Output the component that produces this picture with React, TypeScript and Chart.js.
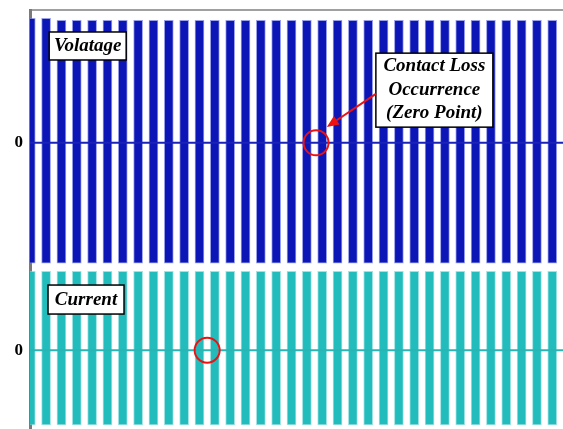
import React, { useEffect, useRef } from 'react';
import { Chart, registerables } from 'chart.js';
Chart.register(...registerables);

// Burst centre times (ms) of the high-frequency waveform
const burstTimes = [1, 21, 41, 61, 81, 101, 121, 141, 161, 181, 201, 221, 241, 261, 281, 301, 321, 341, 361, 381, 401, 421, 441, 461, 481, 501, 521, 541, 561, 581, 601, 621, 641, 661, 681];
// Voltage envelope (divisions)
const voltageUpper = [3.0, 3.0, 2.95, 2.95, 2.95, 2.95, 2.95, 2.95, 2.95, 2.95, 2.95, 2.95, 2.95, 2.95, 2.95, 2.95, 2.95, 2.95, 2.95, 2.95, 2.95, 2.95, 2.95, 2.95, 2.95, 2.95, 2.95, 2.95, 2.95, 2.95, 2.95, 2.95, 2.95, 2.95, 2.95];
const voltageLower = [-2.9, -2.9, -2.9, -2.9, -2.9, -2.9, -2.9, -2.9, -2.9, -2.9, -2.9, -2.9, -2.9, -2.9, -2.9, -2.9, -2.9, -2.9, -2.9, -2.9, -2.9, -2.9, -2.9, -2.9, -2.9, -2.9, -2.9, -2.9, -2.9, -2.9, -2.9, -2.9, -2.9, -2.9, -2.9];
// Current envelope (divisions, relative to its own zero)
const currentUpper = [1.9, 1.9, 1.9, 1.9, 1.9, 1.9, 1.9, 1.9, 1.9, 1.9, 1.9, 1.9, 1.9, 1.9, 1.9, 1.9, 1.9, 1.9, 1.9, 1.9, 1.9, 1.9, 1.9, 1.9, 1.9, 1.9, 1.9, 1.9, 1.9, 1.9, 1.9, 1.9, 1.9, 1.9, 1.9];
const currentLower = [-1.8, -1.8, -1.8, -1.8, -1.8, -1.8, -1.8, -1.8, -1.8, -1.8, -1.8, -1.8, -1.8, -1.8, -1.8, -1.8, -1.8, -1.8, -1.8, -1.8, -1.8, -1.8, -1.8, -1.8, -1.8, -1.8, -1.8, -1.8, -1.8, -1.8, -1.8, -1.8, -1.8, -1.8, -1.8];

const voltageZero = 0;
const currentZero = -5;
const timeMin = 0;
const timeMax = 695;
const yMin = -6.9;
const yMax = 3.2;
const zeroTickLabels = ['0', '0'];

// Annotation anchors (data units)
const voltageLabelAt = { t: 25, y: 2.67, text: 'Volatage' };
const currentLabelAt = { t: 23.5, y: -3.43, text: 'Current' };
const contactBoxAt = { t: 451, y: 2.16, lines: ['Contact Loss', 'Occurrence', '(Zero Point)'] };
const contactCircle = { t: 373, y: 0 };
const currentCircle = { t: 231, y: -5 };
const arrowFrom = { t: 451, y: 1.18 };
const arrowTo = { t: 387, y: 0.38 };

const annotationPlugin = {
  id: 'annots',
  afterDatasetsDraw(chart: any) {
    const { ctx, scales } = chart;
    const x = scales.x, y = scales.y;
    const px = (t: number) => x.getPixelForValue(t);
    const py = (v: number) => y.getPixelForValue(v);
    ctx.save();
    const font = 'italic bold 19px "Liberation Serif", "Times New Roman", serif';

    const box = (left: number, top: number, w: number, h: number) => {
      ctx.fillStyle = '#ffffff';
      ctx.fillRect(left, top, w, h);
      ctx.strokeStyle = '#000000';
      ctx.lineWidth = 1.5;
      ctx.strokeRect(left, top, w, h);
    };

    {
      const l = px(voltageLabelAt.t), t = py(voltageLabelAt.y);
      box(l, t, 77, 28);
      ctx.font = font;
      ctx.fillStyle = '#000';
      ctx.textAlign = 'center';
      ctx.textBaseline = 'middle';
      ctx.fillText(voltageLabelAt.text, l + 38.5, t + 14.5);
    }
    {
      const l = px(currentLabelAt.t), t = py(currentLabelAt.y);
      box(l, t, 76, 29);
      ctx.font = font;
      ctx.fillStyle = '#000';
      ctx.textAlign = 'center';
      ctx.textBaseline = 'middle';
      ctx.fillText(currentLabelAt.text, l + 38, t + 15);
    }
    {
      const l = px(contactBoxAt.t), t = py(contactBoxAt.y);
      box(l, t, 117, 74);
      ctx.font = font;
      ctx.fillStyle = '#000';
      ctx.textAlign = 'center';
      ctx.textBaseline = 'middle';
      contactBoxAt.lines.forEach((s, i) => ctx.fillText(s, l + 58.5, t + 13 + i * 23.5));
    }
    {
      const x1 = px(arrowFrom.t), y1 = py(arrowFrom.y);
      const x2 = px(arrowTo.t), y2 = py(arrowTo.y);
      const ang = Math.atan2(y2 - y1, x2 - x1);
      ctx.strokeStyle = '#ee1111';
      ctx.fillStyle = '#ee1111';
      ctx.lineWidth = 2;
      ctx.beginPath();
      ctx.moveTo(x1, y1);
      ctx.lineTo(x2 - 8 * Math.cos(ang), y2 - 8 * Math.sin(ang));
      ctx.stroke();
      ctx.beginPath();
      ctx.moveTo(x2, y2);
      ctx.lineTo(x2 - 12 * Math.cos(ang) + 5 * Math.sin(ang), y2 - 12 * Math.sin(ang) - 5 * Math.cos(ang));
      ctx.lineTo(x2 - 12 * Math.cos(ang) - 5 * Math.sin(ang), y2 - 12 * Math.sin(ang) + 5 * Math.cos(ang));
      ctx.closePath();
      ctx.fill();
    }
    ctx.strokeStyle = '#ee1111';
    ctx.lineWidth = 2;
    [contactCircle, currentCircle].forEach((c) => {
      ctx.beginPath();
      ctx.arc(px(c.t), py(c.y), 12.5, 0, Math.PI * 2);
      ctx.stroke();
    });
    ctx.restore();
  },
};

export default function App() {
  const ref = useRef<HTMLCanvasElement>(null);
  useEffect(() => {
    const voltageBars = burstTimes.map((t, i) => ({ x: t, y: [voltageZero + voltageLower[i], voltageZero + voltageUpper[i]] }));
    const currentBars = burstTimes.map((t, i) => ({ x: t, y: [currentZero + currentLower[i], currentZero + currentUpper[i]] }));
    const chart = new Chart(ref.current!, {
      type: 'bar',
      data: {
        datasets: [
          {
            type: 'line',
            data: [{ x: timeMin, y: voltageZero }, { x: timeMax, y: voltageZero }],
            borderColor: '#1a22b8',
            borderWidth: 2,
            pointRadius: 0,
          } as any,
          {
            type: 'line',
            data: [{ x: timeMin, y: currentZero }, { x: timeMax, y: currentZero }],
            borderColor: '#2ab5b5',
            borderWidth: 2,
            pointRadius: 0,
          } as any,
          {
            data: voltageBars as any,
            backgroundColor: '#0c16b6',
            borderColor: 'rgba(110,120,225,0.7)',
            borderWidth: 1,
            borderSkipped: false,
            barThickness: 9,
            grouped: false,
          } as any,
          {
            data: currentBars as any,
            backgroundColor: '#22bcbc',
            borderColor: 'rgba(120,215,215,0.7)',
            borderWidth: 1,
            borderSkipped: false,
            barThickness: 9,
            grouped: false,
          } as any,
        ],
      },
      options: {
        animation: false,
        responsive: false,
        maintainAspectRatio: false,
        layout: { padding: 0, autoPadding: false },
        plugins: { legend: { display: false }, tooltip: { enabled: false }, title: { display: false } },
        scales: {
          x: {
            type: 'linear',
            position: 'top',
            offset: false,
            min: timeMin,
            max: timeMax,
            grid: { display: false, drawTicks: false, offset: false },
            ticks: { display: false },
            border: { display: true, color: '#a0a0a0', width: 2 },
            afterFit: (s: any) => { s.height = 10; s.paddingLeft = 0; s.paddingRight = 0; s.paddingTop = 0; s.paddingBottom = 0; },
          },
          y: {
            type: 'linear',
            min: yMin,
            max: yMax,
            grid: { display: false, drawTicks: false },
            border: { display: true, color: '#7a7a7a', width: 3 },
            afterBuildTicks: (s: any) => { s.ticks = [{ value: currentZero }, { value: voltageZero }]; },
            ticks: {
              padding: 7,
              color: '#000',
              font: { family: '"Liberation Serif", "Times New Roman", serif', size: 17, weight: 'bold' },
              callback: (_v: any, i: number) => zeroTickLabels[i],
            },
            afterFit: (s: any) => { s.width = 30; s.paddingTop = 0; s.paddingBottom = 0; s.paddingLeft = 0; s.paddingRight = 0; },
          },
        },
      },
      plugins: [annotationPlugin],
    });
    return () => chart.destroy();
  }, []);
  return (
    <div style={{ position: 'fixed', left: 0, top: 0, width: 563, height: 429, background: '#fff' }}>
      <canvas ref={ref} width={563} height={429} style={{ width: 563, height: 429, display: 'block' }} />
    </div>
  );
}
